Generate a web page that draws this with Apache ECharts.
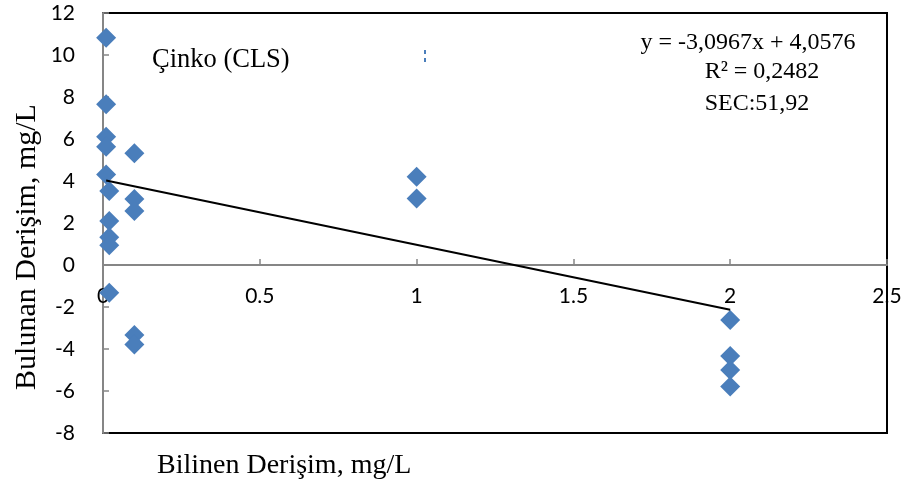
<!DOCTYPE html>
<html>
<head>
<meta charset="utf-8">
<script src="https://cdn.jsdelivr.net/npm/echarts@6/dist/echarts.min.js"></script>
<style>
  html, body { margin: 0; padding: 0; background: #fff; }
  #chart { width: 907px; height: 488px; }
</style>
</head>
<body>
<div id="chart"></div>
<script>
// Known concentration (mg/L) and measured concentration (mg/L), zinc by CLS
const knownConc = [0.01, 0.01, 0.01, 0.01, 0.01,
                   0.02, 0.02, 0.02, 0.02, 0.02,
                   0.1, 0.1, 0.1, 0.1, 0.1,
                   1, 1,
                   2, 2, 2, 2];
const foundConc = [10.82, 7.65, 6.11, 5.63, 4.31,
                   3.52, 2.10, 1.32, 0.94, -1.32,
                   5.32, 3.14, 2.57, -3.33, -3.78,
                   4.20, 3.17,
                   -2.62, -4.33, -5.00, -5.79];

// Linear fit reported for the series
const slope = -3.0967;
const intercept = 4.0576;
const fitLines = ['y = -3,0967x + 4,0576', 'R² = 0,2482', 'SEC:51,92'];

const xTicks = { min: 0, max: 2.5, interval: 0.5 };
const yTicks = { min: -8, max: 12, interval: 2 };

const points = knownConc.map((x, i) => [x, foundConc[i]]);
const xLo = Math.min(...knownConc), xHi = Math.max(...knownConc);
const trend = [[xLo, slope * xLo + intercept], [xHi, slope * xHi + intercept]];

const serif = '"Liberation Serif", "Times New Roman", serif';
const sans = 'Lato, "Open Sans", sans-serif';

// plot box
const gridTop = 13, gridBottom = 55, chartH = 488;
const plotH = chartH - gridTop - gridBottom;
// distance from the bottom edge of the plot up to the y = 0 line
const zeroLift = plotH * (0 - yTicks.min) / (yTicks.max - yTicks.min);

const chart = echarts.init(document.getElementById('chart'));
chart.setOption({
  animation: false,
  backgroundColor: '#fff',
  grid: {
    left: 103, right: 20, top: gridTop, bottom: gridBottom,
    show: true, borderColor: '#000', borderWidth: 2, backgroundColor: '#fff'
  },
  xAxis: {
    type: 'value',
    min: xTicks.min, max: xTicks.max, interval: xTicks.interval,
    offset: -zeroLift,
    axisLine: { onZero: false, lineStyle: { color: '#868686', width: 2 } },
    axisTick: { inside: true, length: 6, lineStyle: { color: '#868686', width: 1.5 } },
    axisLabel: { color: '#000', fontFamily: sans, fontSize: 21, margin: 21,
                 formatter: v => String(v) },
    splitLine: { show: false }
  },
  yAxis: {
    type: 'value',
    min: yTicks.min, max: yTicks.max, interval: yTicks.interval,
    axisLine: { lineStyle: { color: '#868686', width: 2 } },
    axisTick: { inside: true, length: 6, lineStyle: { color: '#868686', width: 1.5 } },
    axisLabel: { color: '#000', fontFamily: sans, fontSize: 21, margin: 28 },
    splitLine: { show: false }
  },
  series: [
    {
      type: 'scatter',
      data: points,
      symbol: 'diamond',
      symbolSize: 20,
      itemStyle: { color: '#4A7EBB', opacity: 1 },
      z: 3
    },
    {
      type: 'line',
      data: trend,
      symbol: 'none',
      lineStyle: { color: '#000', width: 2 },
      z: 4
    }
  ],
  graphic: [
    { type: 'text', x: 27, y: 247, rotation: Math.PI / 2,
      style: { text: 'Bulunan Derişim, mg/L', font: '30px ' + serif, fill: '#000',
               textAlign: 'center', textVerticalAlign: 'middle' } },
    { type: 'text', x: 157, y: 466,
      style: { text: 'Bilinen Derişim, mg/L', font: '28px ' + serif, fill: '#000',
               textAlign: 'left', textVerticalAlign: 'middle' } },
    { type: 'text', x: 152, y: 60,
      style: { text: 'Çinko (CLS)', font: '26.5px ' + serif, fill: '#000',
               textAlign: 'left', textVerticalAlign: 'middle' } },
    { type: 'text', x: 748, y: 43,
      style: { text: fitLines[0], font: '24px ' + serif, fill: '#000',
               textAlign: 'center', textVerticalAlign: 'middle' } },
    { type: 'text', x: 762, y: 72,
      style: { text: fitLines[1], font: '24px ' + serif, fill: '#000',
               textAlign: 'center', textVerticalAlign: 'middle' } },
    { type: 'text', x: 757, y: 104,
      style: { text: fitLines[2], font: '24px ' + serif, fill: '#000',
               textAlign: 'center', textVerticalAlign: 'middle' } },
    { type: 'rect', shape: { x: 424, y: 50, width: 2, height: 4 }, style: { fill: '#4A7EBB' } },
    { type: 'rect', shape: { x: 424, y: 58, width: 2, height: 4 }, style: { fill: '#4A7EBB' } }
  ]
});
</script>
</body>
</html>
